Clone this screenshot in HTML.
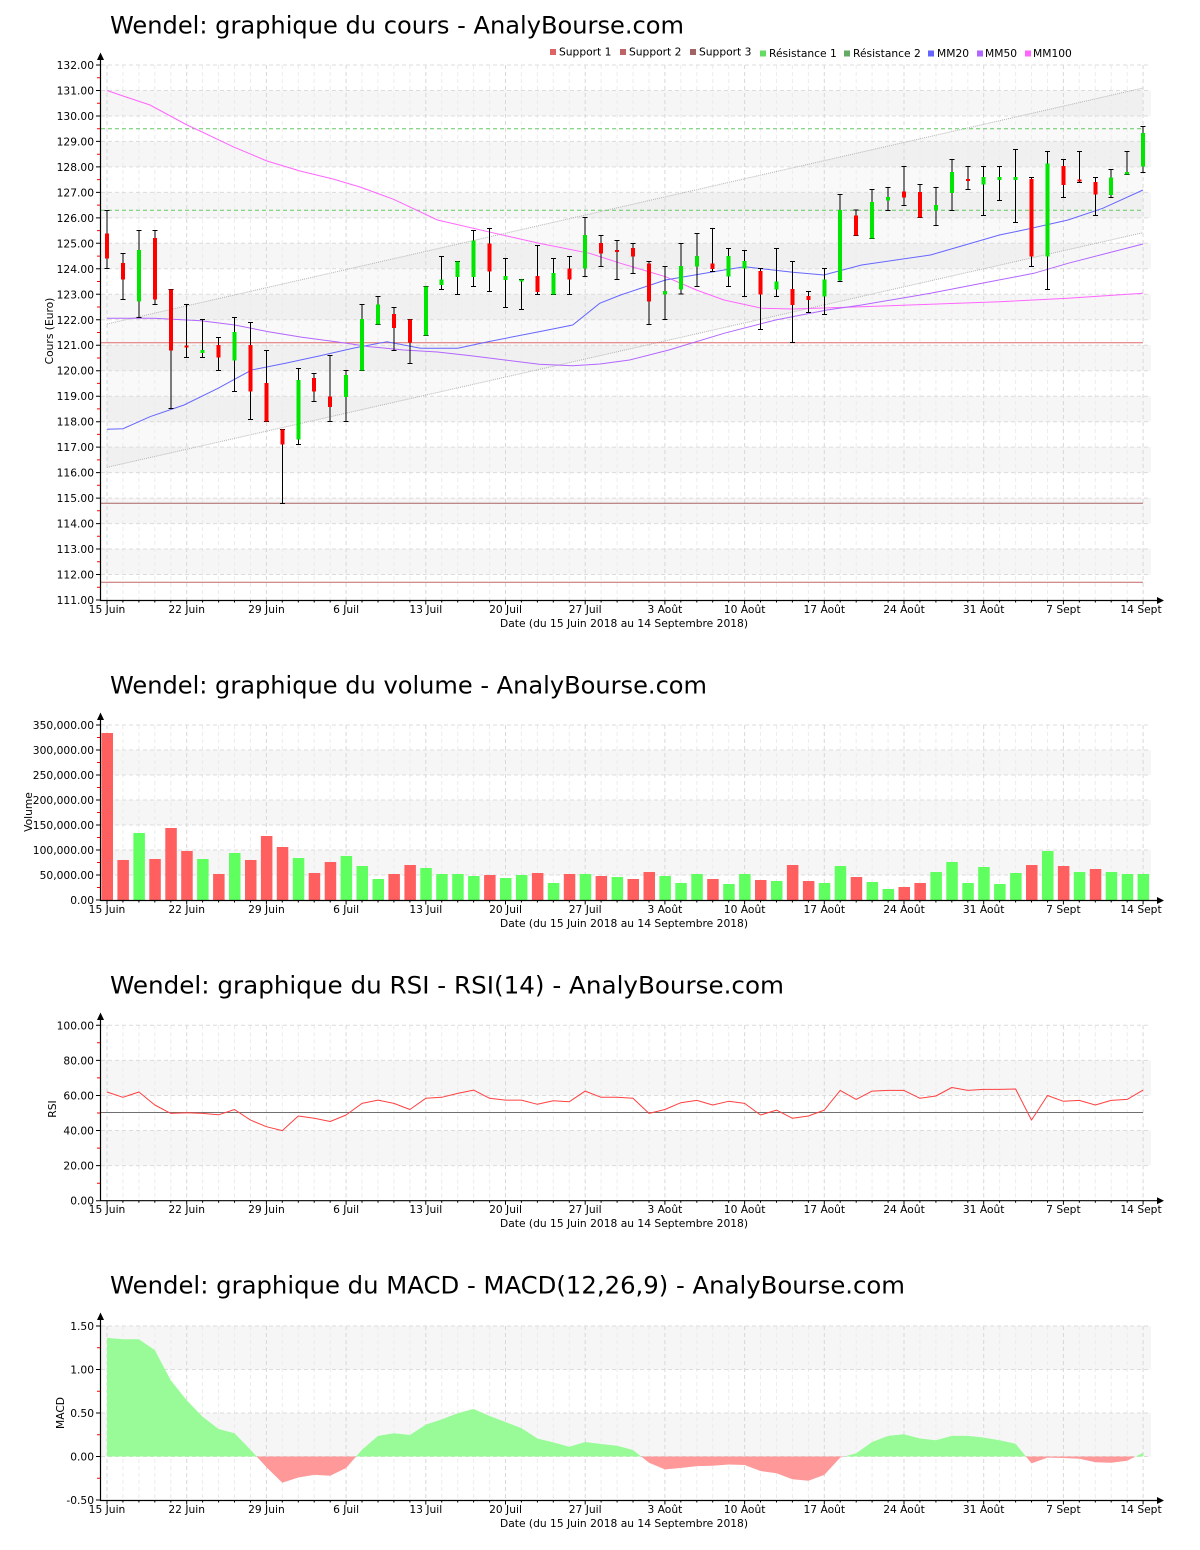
<!DOCTYPE html>
<html><head><meta charset="utf-8"><style>
html,body{margin:0;padding:0;background:#fff;width:1200px;height:1550px;overflow:hidden;position:relative;}
svg{display:block;position:absolute;left:0;top:0;overflow:hidden;}
text{font-family:"DejaVu Sans","Liberation Sans",sans-serif;fill:#000;}
.t{font-size:24px;}
.s{font-size:10.7px;}
</style></head><body>
<svg width="1200" height="1550" viewBox="0 0 1200 1550" xmlns="http://www.w3.org/2000/svg">
<defs>
<path id="vmin" d="M122.9 0V535M138.9 0V535M154.8 0V535M170.8 0V535M202.6 0V535M218.6 0V535M234.5 0V535M250.5 0V535M282.3 0V535M298.3 0V535M314.2 0V535M330.2 0V535M362 0V535M378 0V535M393.9 0V535M409.9 0V535M441.7 0V535M457.7 0V535M473.6 0V535M489.6 0V535M521.4 0V535M537.4 0V535M553.3 0V535M569.3 0V535M601.1 0V535M617.1 0V535M633 0V535M649 0V535M680.8 0V535M696.8 0V535M712.7 0V535M728.7 0V535M760.5 0V535M776.5 0V535M792.4 0V535M808.4 0V535M840.2 0V535M856.2 0V535M872.1 0V535M888.1 0V535M919.9 0V535M935.9 0V535M951.8 0V535M967.8 0V535M999.6 0V535M1015.6 0V535M1031.5 0V535M1047.5 0V535M1079.3 0V535M1095.3 0V535M1111.2 0V535M1127.2 0V535"/>
<path id="vmaj" d="M107 0V535M186.7 0V535M266.4 0V535M346.1 0V535M425.8 0V535M505.5 0V535M585.2 0V535M664.9 0V535M744.6 0V535M824.3 0V535M904 0V535M983.7 0V535M1063.4 0V535M1143.1 0V535"/>
<path id="xt" d="M107 0v4M186.7 0v4M266.4 0v4M346.1 0v4M425.8 0v4M505.5 0v4M585.2 0v4M664.9 0v4M744.6 0v4M824.3 0v4M904 0v4M983.7 0v4M1063.4 0v4M1143.1 0v4M122.9 0v2M138.9 0v2M154.8 0v2M170.8 0v2M202.6 0v2M218.6 0v2M234.5 0v2M250.5 0v2M282.3 0v2M298.3 0v2M314.2 0v2M330.2 0v2M362 0v2M378 0v2M393.9 0v2M409.9 0v2M441.7 0v2M457.7 0v2M473.6 0v2M489.6 0v2M521.4 0v2M537.4 0v2M553.3 0v2M569.3 0v2M601.1 0v2M617.1 0v2M633 0v2M649 0v2M680.8 0v2M696.8 0v2M712.7 0v2M728.7 0v2M760.5 0v2M776.5 0v2M792.4 0v2M808.4 0v2M840.2 0v2M856.2 0v2M872.1 0v2M888.1 0v2M919.9 0v2M935.9 0v2M951.8 0v2M967.8 0v2M999.6 0v2M1015.6 0v2M1031.5 0v2M1047.5 0v2M1079.3 0v2M1095.3 0v2M1111.2 0v2M1127.2 0v2"/>
<clipPath id="c2"><rect x="0" y="725" width="1200" height="175"/></clipPath>
<clipPath id="c3"><rect x="0" y="1025" width="1200" height="176"/></clipPath>
<clipPath id="c4"><rect x="0" y="1325" width="1200" height="175"/></clipPath>
<clipPath id="cpos"><rect x="100" y="1300" width="1100" height="156.5"/></clipPath>
<clipPath id="cneg"><rect x="100" y="1456.5" width="1100" height="43"/></clipPath>
</defs>

<!-- ================= PRICE CHART ================= -->
<text class="t" x="110" y="33.3" textLength="574" lengthAdjust="spacingAndGlyphs">Wendel: graphique du cours - AnalyBourse.com</text>
<g fill="#f6f6f6">
<rect x="101" y="90.5" width="1050" height="25.5"/><rect x="101" y="141.4" width="1050" height="25.5"/><rect x="101" y="192.4" width="1050" height="25.5"/><rect x="101" y="243.3" width="1050" height="25.5"/><rect x="101" y="294.3" width="1050" height="25.5"/><rect x="101" y="345.2" width="1050" height="25.5"/><rect x="101" y="396.2" width="1050" height="25.5"/><rect x="101" y="447.1" width="1050" height="25.5"/><rect x="101" y="498.1" width="1050" height="25.5"/><rect x="101" y="549" width="1050" height="25.5"/>
</g>
<polygon points="107,324 1143,88 1143,232.7 107,467.3" fill="#000" fill-opacity="0.025"/>
<use href="#vmin" transform="translate(0,65)" stroke="#ececec" stroke-width="1" stroke-dasharray="4,3" fill="none"/>
<use href="#vmaj" transform="translate(0,65)" stroke="#d8d8d8" stroke-width="1" stroke-dasharray="4,3" fill="none"/>
<path d="M101 65H1151M101 90.5H1151M101 116H1151M101 141.4H1151M101 166.9H1151M101 192.4H1151M101 217.9H1151M101 243.3H1151M101 268.8H1151M101 294.3H1151M101 319.8H1151M101 345.2H1151M101 370.7H1151M101 396.2H1151M101 421.7H1151M101 447.1H1151M101 472.6H1151M101 498.1H1151M101 523.6H1151M101 549H1151M101 574.5H1151" stroke="#dcdcdc" stroke-dasharray="4,3" fill="none"/>

<!-- regression channel -->
<line x1="107" y1="324" x2="1143" y2="88" stroke="#b4b4b4" stroke-dasharray="1,1"/>
<line x1="107" y1="467.3" x2="1143" y2="232.7" stroke="#b4b4b4" stroke-dasharray="1,1"/>

<!-- supports / resistances -->
<line x1="101" y1="342.7" x2="1143" y2="342.7" stroke="#dd6a6a"/>
<line x1="101" y1="503.3" x2="1143" y2="503.3" stroke="#a86464"/>
<line x1="101" y1="582.3" x2="1143" y2="582.3" stroke="#c46868"/>
<line x1="101" y1="128.7" x2="1143" y2="128.7" stroke="#66c866" stroke-dasharray="4,3"/>
<line x1="101" y1="210.2" x2="1143" y2="210.2" stroke="#66c866" stroke-dasharray="4,3"/>

<!-- moving averages -->
<polyline fill="none" stroke="#ff66ff" stroke-width="1" points="107,90.5 123,96 150,105 187,125 200,131 233,146.7 267,161 300,171 333,179 360,187 393.6,199.3 437.5,220 488,231.7 539,243.3 589.6,253.3 620.6,263.3 665.4,276.7 696.4,290 724,300 761.8,308.3 792.8,309 861.6,306.7 930.5,304.3 999.4,301.7 1068,298.3 1143,293.3"/>
<polyline fill="none" stroke="#b266ff" stroke-width="1" points="107,318.3 153.6,318.3 201,320.7 234.7,325 268.5,331.7 302,337.3 336,341.7 370,346.7 403.7,350 437.5,352 471,355.7 505,360 539,364.3 572.7,365.7 600,364 629.5,360 668.8,350 724,333.3 775.6,320 827,310 861.6,305 930.5,293.3 982,283.3 1033.8,273.3 1068,263.3 1143,244"/>
<polyline fill="none" stroke="#6666ff" stroke-width="1" points="107,429.3 123,428.7 150,416.7 184,405 218,388.3 251.6,370 285.4,363.3 319,356 353,348.3 387,341.7 420.6,348.3 457.8,348.3 488,341.7 539,331.7 572.7,325 599.7,303.3 620.6,295 665.4,280 724,270 744.6,266.7 792.8,272.3 823.8,275 861.6,265 930.5,255 965,245 999.4,235 1027,229.3 1068,220 1102.7,208.3 1143,190"/>

<!-- candles wicks -->
<path shape-rendering="crispEdges" stroke="#000" stroke-width="1" fill="none" d="
M107 210.7V268.3M104.5 210.7h5M104.5 268.3h5
M122.9 253.3V299.3M120.4 253.3h5M120.4 299.3h5
M138.9 230.7V317.3M136.4 230.7h5M136.4 317.3h5
M154.8 230.7V304.3M152.3 230.7h5M152.3 304.3h5
M170.8 289.3V408.7M168.3 289.3h5M168.3 408.7h5
M186.7 304.7V357.3M184.2 304.7h5M184.2 357.3h5
M202.6 319.3V357.3M200.1 319.3h5M200.1 357.3h5
M218.6 337.3V370.3M216.1 337.3h5M216.1 370.3h5
M234.5 317.3V391.3M232 317.3h5M232 391.3h5
M250.5 322.3V419.3M248 322.3h5M248 419.3h5
M266.4 350.3V421.3M263.9 350.3h5M263.9 421.3h5
M282.3 429.3V503.3M279.8 429.3h5M279.8 503.3h5
M298.3 368.7V444.7M295.8 368.7h5M295.8 444.7h5
M314.2 373.3V401.3M311.7 373.3h5M311.7 401.3h5
M330.2 355.3V421.3M327.7 355.3h5M327.7 421.3h5
M346.1 370.7V421.3M343.6 370.7h5M343.6 421.3h5
M362 304.7V370.7M359.5 304.7h5M359.5 370.7h5
M378 296.7V324.7M375.5 296.7h5M375.5 324.7h5
M393.9 307.7V350.3M391.4 307.7h5M391.4 350.3h5
M409.9 319.3V363.3M407.4 319.3h5M407.4 363.3h5
M425.8 286.3V335.3M423.3 286.3h5M423.3 335.3h5
M441.7 256.7V289.3M439.2 256.7h5M439.2 289.3h5
M457.7 261.3V294.7M455.2 261.3h5M455.2 294.7h5
M473.6 230.7V286.7M471.1 230.7h5M471.1 286.7h5
M489.6 228.7V291.3M487.1 228.7h5M487.1 291.3h5
M505.5 258.3V307.3M503 258.3h5M503 307.3h5
M521.4 279.3V309.3M518.9 279.3h5M518.9 309.3h5
M537.4 245.3V294.7M534.9 245.3h5M534.9 294.7h5
M553.3 258.7V294.7M550.8 258.7h5M550.8 294.7h5
M569.3 256.7V294.7M566.8 256.7h5M566.8 294.7h5
M585.2 217.3V276.3M582.7 217.3h5M582.7 276.3h5
M601.1 235.3V266.7M598.6 235.3h5M598.6 266.7h5
M617.1 240.3V279.3M614.6 240.3h5M614.6 279.3h5
M633 243.3V273.3M630.5 243.3h5M630.5 273.3h5
M649 261.3V324.3M646.5 261.3h5M646.5 324.3h5
M664.9 266.3V319.3M662.4 266.3h5M662.4 319.3h5
M680.8 243.3V294M678.3 243.3h5M678.3 294h5
M696.8 233.7V286.3M694.3 233.7h5M694.3 286.3h5
M712.7 228.3V271.7M710.2 228.3h5M710.2 271.7h5
M728.7 248.3V286.3M726.2 248.3h5M726.2 286.3h5
M744.6 250.3V296.3M742.1 250.3h5M742.1 296.3h5
M760.5 268.3V329.7M758 268.3h5M758 329.7h5
M776.5 248.3V296.3M774 248.3h5M774 296.3h5
M792.4 261.3V342.3M789.9 261.3h5M789.9 342.3h5
M808.4 291.3V312.3M805.9 291.3h5M805.9 312.3h5
M824.3 268.3V314.3M821.8 268.3h5M821.8 314.3h5
M840.2 194.3V281.3M837.7 194.3h5M837.7 281.3h5
M856.2 210V235.3M853.7 210h5M853.7 235.3h5
M872.1 189.3V238.3M869.6 189.3h5M869.6 238.3h5
M888.1 187.3V210.3M885.6 187.3h5M885.6 210.3h5
M904 166.3V205.3M901.5 166.3h5M901.5 205.3h5
M919.9 184.3V217.7M917.4 184.3h5M917.4 217.7h5
M935.9 187.3V225.3M933.4 187.3h5M933.4 225.3h5
M951.8 159.3V210.3M949.3 159.3h5M949.3 210.3h5
M967.8 166.3V189.3M965.3 166.3h5M965.3 189.3h5
M983.7 166.3V215.7M981.2 166.3h5M981.2 215.7h5
M999.6 166.3V200.3M997.1 166.3h5M997.1 200.3h5
M1015.6 149.3V222.3M1013.1 149.3h5M1013.1 222.3h5
M1031.5 177.7V266.3M1029 177.7h5M1029 266.3h5
M1047.5 151.3V289.3M1045 151.3h5M1045 289.3h5
M1063.4 159.3V197.3M1060.9 159.3h5M1060.9 197.3h5
M1079.3 151.3V182.3M1076.8 151.3h5M1076.8 182.3h5
M1095.3 177.3V215.3M1092.8 177.3h5M1092.8 215.3h5
M1111.2 169.3V197.3M1108.7 169.3h5M1108.7 197.3h5
M1127.2 151.3V174.3M1124.7 151.3h5M1124.7 174.3h5
M1143.1 126.3V172.3M1140.6 126.3h5M1140.6 172.3h5"/>
<!-- candle bodies red -->
<g fill="#ff0000" shape-rendering="crispEdges">
<rect x="105" y="233.3" width="4" height="25.4"/><rect x="120.9" y="263" width="4" height="16.7"/><rect x="152.8" y="238" width="4" height="61.7"/><rect x="168.8" y="289.3" width="4" height="61.4"/><rect x="184.7" y="345.3" width="4" height="2.4"/><rect x="216.6" y="345" width="4" height="12.7"/><rect x="248.5" y="345" width="4" height="46.7"/><rect x="264.4" y="383" width="4" height="38.3"/><rect x="280.3" y="429.3" width="4" height="15.4"/><rect x="312.2" y="378" width="4" height="13.7"/><rect x="328.2" y="396.3" width="4" height="10.7"/><rect x="391.9" y="314" width="4" height="14"/><rect x="407.9" y="319.3" width="4" height="23.4"/><rect x="487.6" y="243.3" width="4" height="28.4"/><rect x="535.4" y="276" width="4" height="16"/><rect x="567.3" y="268.3" width="4" height="11.4"/><rect x="599.1" y="243" width="4" height="10.7"/><rect x="615.1" y="250" width="4" height="2"/><rect x="631" y="248" width="4" height="8.7"/><rect x="647" y="263.3" width="4" height="38.4"/><rect x="710.7" y="263.3" width="4" height="5.7"/><rect x="758.5" y="271" width="4" height="23.7"/><rect x="790.4" y="289" width="4" height="16"/><rect x="806.4" y="296" width="4" height="4"/><rect x="854.2" y="215.3" width="4" height="20"/><rect x="902" y="191.7" width="4" height="6"/><rect x="917.9" y="192" width="4" height="25.7"/><rect x="965.8" y="179" width="4" height="2"/><rect x="1029.5" y="179" width="4" height="77.7"/><rect x="1061.4" y="166" width="4" height="19"/><rect x="1077.3" y="179.3" width="4" height="2"/><rect x="1093.3" y="182" width="4" height="12.7"/>
</g>
<!-- candle bodies green -->
<g fill="#00e600" shape-rendering="crispEdges">
<rect x="136.9" y="250" width="4" height="51.7"/><rect x="200.6" y="350" width="4" height="3"/><rect x="232.5" y="332" width="4" height="28.7"/><rect x="296.3" y="380" width="4" height="59.7"/><rect x="344.1" y="375" width="4" height="22"/><rect x="360" y="319" width="4" height="51.7"/><rect x="376" y="304.3" width="4" height="20.4"/><rect x="423.8" y="286.3" width="4" height="49"/><rect x="439.7" y="279.3" width="4" height="5.7"/><rect x="455.7" y="261.3" width="4" height="15.7"/><rect x="471.6" y="240.3" width="4" height="36.7"/><rect x="503.5" y="276" width="4" height="4"/><rect x="519.4" y="279.3" width="4" height="2.4"/><rect x="551.3" y="273" width="4" height="21.7"/><rect x="583.2" y="235" width="4" height="33.7"/><rect x="662.9" y="291" width="4" height="3.3"/><rect x="678.8" y="266" width="4" height="23.7"/><rect x="694.8" y="256" width="4" height="10.7"/><rect x="726.7" y="256" width="4" height="20.7"/><rect x="742.6" y="261" width="4" height="7.7"/><rect x="774.5" y="281.3" width="4" height="8"/><rect x="822.3" y="279.3" width="4" height="17.4"/><rect x="838.2" y="210" width="4" height="70.3"/><rect x="870.1" y="202" width="4" height="36.3"/><rect x="886.1" y="197" width="4" height="3.7"/><rect x="933.9" y="205" width="4" height="5.7"/><rect x="949.8" y="172" width="4" height="21"/><rect x="981.7" y="177" width="4" height="7.7"/><rect x="997.6" y="177" width="4" height="3"/><rect x="1013.6" y="177" width="4" height="3"/><rect x="1045.5" y="163.7" width="4" height="93"/><rect x="1109.2" y="177.3" width="4" height="17.7"/><rect x="1125.2" y="172" width="4" height="2.3"/><rect x="1141.1" y="133" width="4" height="33.7"/>
</g>

<!-- legend -->
<g>
<rect x="550" y="49" width="6" height="6" fill="#dc6464"/><text class="s" x="559" y="55.5">Support 1</text>
<rect x="620" y="49" width="6" height="6" fill="#be6464"/><text class="s" x="629" y="55.5">Support 2</text>
<rect x="690" y="49" width="6" height="6" fill="#a06464"/><text class="s" x="699" y="55.5">Support 3</text>
<rect x="760" y="50.5" width="6" height="6" fill="#64dc64"/><text class="s" x="769" y="57">Résistance 1</text>
<rect x="844" y="50.5" width="6" height="6" fill="#64aa64"/><text class="s" x="853" y="57">Résistance 2</text>
<rect x="928" y="50.5" width="6" height="6" fill="#6666ff"/><text class="s" x="937" y="57">MM20</text>
<rect x="977" y="50.5" width="6" height="6" fill="#b266ff"/><text class="s" x="985" y="57">MM50</text>
<rect x="1025" y="50.5" width="6" height="6" fill="#ff66ff"/><text class="s" x="1033" y="57">MM100</text>
</g>

<!-- axes -->
<path d="M100.5 56V600.5H1158" stroke="#000" stroke-width="1.2" fill="none"/>
<polygon points="97,60 100.5,52.5 104,60" fill="#000"/>
<polygon points="1157,597 1164,600.5 1157,604" fill="#000"/>
<use href="#xt" transform="translate(0,600.5)" stroke="#000" stroke-width="1" fill="none"/>
<path d="M96 65H100M96 90.5H100M96 116H100M96 141.4H100M96 166.9H100M96 192.4H100M96 217.9H100M96 243.3H100M96 268.8H100M96 294.3H100M96 319.8H100M96 345.2H100M96 370.7H100M96 396.2H100M96 421.7H100M96 447.1H100M96 472.6H100M96 498.1H100M96 523.6H100M96 549H100M96 574.5H100M96 600H100" stroke="#000"/>
<path d="M97 77.7H100M97 103.2H100M97 128.7H100M97 154.2H100M97 179.6H100M97 205.1H100M97 230.6H100M97 256.1H100M97 281.5H100M97 307H100M97 332.5H100M97 358H100M97 383.4H100M97 408.9H100M97 434.4H100M97 459.9H100M97 485.3H100M97 510.8H100M97 536.3H100M97 561.8H100M97 587.2H100" stroke="#ff0000"/>
<g text-anchor="end">
<text class="s" x="94" y="69">132.00</text><text class="s" x="94" y="94.5">131.00</text><text class="s" x="94" y="120">130.00</text><text class="s" x="94" y="145.4">129.00</text><text class="s" x="94" y="170.9">128.00</text><text class="s" x="94" y="196.4">127.00</text><text class="s" x="94" y="221.9">126.00</text><text class="s" x="94" y="247.3">125.00</text><text class="s" x="94" y="272.8">124.00</text><text class="s" x="94" y="298.3">123.00</text><text class="s" x="94" y="323.8">122.00</text><text class="s" x="94" y="349.2">121.00</text><text class="s" x="94" y="374.7">120.00</text><text class="s" x="94" y="400.2">119.00</text><text class="s" x="94" y="425.7">118.00</text><text class="s" x="94" y="451.1">117.00</text><text class="s" x="94" y="476.6">116.00</text><text class="s" x="94" y="502.1">115.00</text><text class="s" x="94" y="527.6">114.00</text><text class="s" x="94" y="553">113.00</text><text class="s" x="94" y="578.5">112.00</text><text class="s" x="94" y="604">111.00</text>
</g>
<text class="s" transform="translate(53,331) rotate(-90)" text-anchor="middle">Cours (Euro)</text>
<g text-anchor="middle">
<text class="s" x="107" y="613">15 Juin</text><text class="s" x="186.7" y="613">22 Juin</text><text class="s" x="266.4" y="613">29 Juin</text><text class="s" x="346.1" y="613">6 Juil</text><text class="s" x="425.8" y="613">13 Juil</text><text class="s" x="505.5" y="613">20 Juil</text><text class="s" x="585.2" y="613">27 Juil</text><text class="s" x="664.9" y="613">3 Août</text><text class="s" x="744.6" y="613">10 Août</text><text class="s" x="824.3" y="613">17 Août</text><text class="s" x="904" y="613">24 Août</text><text class="s" x="983.7" y="613">31 Août</text><text class="s" x="1063.4" y="613">7 Sept</text><text class="s" x="1141" y="613">14 Sept</text>
<text class="s" x="624" y="627">Date (du 15 Juin 2018 au 14 Septembre 2018)</text>
</g>

<!-- ================= VOLUME CHART ================= -->
<text class="t" x="110" y="693.3" textLength="597" lengthAdjust="spacingAndGlyphs">Wendel: graphique du volume - AnalyBourse.com</text>
<g fill="#f6f6f6">
<rect x="101" y="750" width="1050" height="25"/><rect x="101" y="800" width="1050" height="25"/><rect x="101" y="850" width="1050" height="25"/>
</g>
<g clip-path="url(#c2)">
<use href="#vmin" transform="translate(0,725)" stroke="#ececec" stroke-dasharray="4,3" fill="none"/>
<use href="#vmaj" transform="translate(0,725)" stroke="#d8d8d8" stroke-dasharray="4,3" fill="none"/>
</g>
<path d="M101 725H1151M101 750H1151M101 775H1151M101 800H1151M101 825H1151M101 850H1151M101 875H1151" stroke="#dcdcdc" stroke-dasharray="4,3" fill="none"/>
<g fill="#ff5f5f">
<rect x="101.5" y="733" width="11.5" height="167"/><rect x="117.4" y="860" width="11.5" height="40"/><rect x="149.3" y="859" width="11.5" height="41"/><rect x="165.3" y="828" width="11.5" height="72"/><rect x="181.2" y="851" width="11.5" height="49"/><rect x="213.1" y="874" width="11.5" height="26"/><rect x="245" y="860" width="11.5" height="40"/><rect x="260.9" y="836" width="11.5" height="64"/><rect x="276.8" y="847" width="11.5" height="53"/><rect x="308.7" y="873" width="11.5" height="27"/><rect x="324.7" y="862" width="11.5" height="38"/><rect x="388.4" y="874" width="11.5" height="26"/><rect x="404.4" y="865" width="11.5" height="35"/><rect x="484.1" y="875" width="11.5" height="25"/><rect x="531.9" y="873" width="11.5" height="27"/><rect x="563.8" y="874" width="11.5" height="26"/><rect x="595.6" y="876" width="11.5" height="24"/><rect x="627.5" y="879" width="11.5" height="21"/><rect x="643.5" y="872" width="11.5" height="28"/><rect x="707.2" y="879" width="11.5" height="21"/><rect x="755" y="880" width="11.5" height="20"/><rect x="786.9" y="865" width="11.5" height="35"/><rect x="802.9" y="881" width="11.5" height="19"/><rect x="850.7" y="877" width="11.5" height="23"/><rect x="898.5" y="887" width="11.5" height="13"/><rect x="914.4" y="883" width="11.5" height="17"/><rect x="1026" y="865" width="11.5" height="35"/><rect x="1057.9" y="866" width="11.5" height="34"/><rect x="1089.8" y="869" width="11.5" height="31"/>
</g>
<g fill="#5fff5f">
<rect x="133.4" y="833" width="11.5" height="67"/><rect x="197.1" y="859" width="11.5" height="41"/><rect x="229" y="853" width="11.5" height="47"/><rect x="292.8" y="858" width="11.5" height="42"/><rect x="340.6" y="856" width="11.5" height="44"/><rect x="356.5" y="866" width="11.5" height="34"/><rect x="372.5" y="879" width="11.5" height="21"/><rect x="420.3" y="868" width="11.5" height="32"/><rect x="436.2" y="874" width="11.5" height="26"/><rect x="452.2" y="874" width="11.5" height="26"/><rect x="468.1" y="876" width="11.5" height="24"/><rect x="500" y="878" width="11.5" height="22"/><rect x="515.9" y="875" width="11.5" height="25"/><rect x="547.8" y="883" width="11.5" height="17"/><rect x="579.7" y="874" width="11.5" height="26"/><rect x="611.6" y="877" width="11.5" height="23"/><rect x="659.4" y="876" width="11.5" height="24"/><rect x="675.3" y="883" width="11.5" height="17"/><rect x="691.3" y="874" width="11.5" height="26"/><rect x="723.2" y="884" width="11.5" height="16"/><rect x="739.1" y="874" width="11.5" height="26"/><rect x="771" y="881" width="11.5" height="19"/><rect x="818.8" y="883" width="11.5" height="17"/><rect x="834.7" y="866" width="11.5" height="34"/><rect x="866.6" y="882" width="11.5" height="18"/><rect x="882.6" y="889" width="11.5" height="11"/><rect x="930.4" y="872" width="11.5" height="28"/><rect x="946.3" y="862" width="11.5" height="38"/><rect x="962.3" y="883" width="11.5" height="17"/><rect x="978.2" y="867" width="11.5" height="33"/><rect x="994.1" y="884" width="11.5" height="16"/><rect x="1010.1" y="873" width="11.5" height="27"/><rect x="1042" y="851" width="11.5" height="49"/><rect x="1073.8" y="872" width="11.5" height="28"/><rect x="1105.7" y="872" width="11.5" height="28"/><rect x="1121.7" y="874" width="11.5" height="26"/><rect x="1137.6" y="874" width="11.5" height="26"/>
</g>
<path d="M100.5 716V900.5H1158" stroke="#000" stroke-width="1.2" fill="none"/>
<polygon points="97,720 100.5,712.5 104,720" fill="#000"/>
<polygon points="1157,897 1164,900.5 1157,904" fill="#000"/>
<use href="#xt" transform="translate(0,900.5)" stroke="#000" fill="none"/>
<path d="M96 725H100M96 750H100M96 775H100M96 800H100M96 825H100M96 850H100M96 875H100M96 900H100" stroke="#000"/>
<path d="M97 737.5H100M97 762.5H100M97 787.5H100M97 812.5H100M97 837.5H100M97 862.5H100M97 887.5H100" stroke="#ff0000"/>
<g text-anchor="end">
<text class="s" x="94" y="729">350,000.00</text><text class="s" x="94" y="754">300,000.00</text><text class="s" x="94" y="779">250,000.00</text><text class="s" x="94" y="804">200,000.00</text><text class="s" x="94" y="829">150,000.00</text><text class="s" x="94" y="854">100,000.00</text><text class="s" x="94" y="879">50,000.00</text><text class="s" x="94" y="904">0.00</text>
</g>
<text class="s" transform="translate(32,812) rotate(-90)" text-anchor="middle">Volume</text>
<g text-anchor="middle">
<text class="s" x="107" y="913">15 Juin</text><text class="s" x="186.7" y="913">22 Juin</text><text class="s" x="266.4" y="913">29 Juin</text><text class="s" x="346.1" y="913">6 Juil</text><text class="s" x="425.8" y="913">13 Juil</text><text class="s" x="505.5" y="913">20 Juil</text><text class="s" x="585.2" y="913">27 Juil</text><text class="s" x="664.9" y="913">3 Août</text><text class="s" x="744.6" y="913">10 Août</text><text class="s" x="824.3" y="913">17 Août</text><text class="s" x="904" y="913">24 Août</text><text class="s" x="983.7" y="913">31 Août</text><text class="s" x="1063.4" y="913">7 Sept</text><text class="s" x="1141" y="913">14 Sept</text>
<text class="s" x="624" y="927">Date (du 15 Juin 2018 au 14 Septembre 2018)</text>
</g>

<!-- ================= RSI CHART ================= -->
<text class="t" x="110" y="993.3" textLength="674" lengthAdjust="spacingAndGlyphs">Wendel: graphique du RSI - RSI(14) - AnalyBourse.com</text>
<g fill="#f6f6f6">
<rect x="101" y="1060.4" width="1050" height="35.1"/><rect x="101" y="1130.5" width="1050" height="35.1"/>
</g>
<g clip-path="url(#c3)">
<use href="#vmin" transform="translate(0,1025.3)" stroke="#ececec" stroke-dasharray="4,3" fill="none"/>
<use href="#vmaj" transform="translate(0,1025.3)" stroke="#d8d8d8" stroke-dasharray="4,3" fill="none"/>
</g>
<path d="M101 1025.3H1151M101 1060.4H1151M101 1095.5H1151M101 1130.5H1151M101 1165.6H1151" stroke="#dcdcdc" stroke-dasharray="4,3" fill="none"/>
<line x1="101" y1="1112.5" x2="1143" y2="1112.5" stroke="#707070"/>
<polyline fill="none" stroke="#ff4040" stroke-width="1" stroke-linejoin="round" points="107,1092 122.9,1097.3 138.9,1092 154.8,1105 170.8,1113.4 186.7,1112.7 202.6,1113.4 218.6,1114.8 234.5,1109.5 250.5,1120.1 266.4,1126.7 282.3,1130.6 298.3,1116 314.2,1118.3 330.2,1121.5 346.1,1115 362,1103.4 378,1100.1 393.9,1103.4 409.9,1109.5 425.8,1098.3 441.7,1097.3 457.7,1093.4 473.6,1090.1 489.6,1098.3 505.5,1100.1 521.4,1100.1 537.4,1104.3 553.3,1100.8 569.3,1101.7 585.2,1091.1 601.1,1097.3 617.1,1097.3 633,1098.3 649,1113.4 664.9,1109.5 680.8,1102.7 696.8,1100.4 712.7,1105 728.7,1101.3 744.6,1103.4 760.5,1115 776.5,1110.1 792.4,1118.3 808.4,1116 824.3,1110.1 840.2,1090.4 856.2,1099.4 872.1,1091.1 888.1,1090.4 904,1090.4 919.9,1098.3 935.9,1096 951.8,1087.5 967.8,1090.4 983.7,1089.4 999.6,1089.4 1015.6,1089 1031.5,1120.1 1047.5,1095.5 1063.4,1101.3 1079.3,1100.4 1095.3,1105 1111.2,1100.4 1127.2,1099.4 1143.1,1090.1"/>
<path d="M100.5 1016V1200.7H1158" stroke="#000" stroke-width="1.2" fill="none"/>
<polygon points="97,1020 100.5,1012.5 104,1020" fill="#000"/>
<polygon points="1157,1197.2 1164,1200.7 1157,1204.2" fill="#000"/>
<use href="#xt" transform="translate(0,1200.7)" stroke="#000" fill="none"/>
<path d="M96 1025.3H100M96 1060.4H100M96 1095.5H100M96 1130.5H100M96 1165.6H100M96 1200.7H100" stroke="#000"/>
<path d="M97 1042.8H100M97 1077.9H100M97 1113H100M97 1148.1H100M97 1183.2H100" stroke="#ff0000"/>
<g text-anchor="end">
<text class="s" x="94" y="1029.3">100.00</text><text class="s" x="94" y="1064.4">80.00</text><text class="s" x="94" y="1099.5">60.00</text><text class="s" x="94" y="1134.5">40.00</text><text class="s" x="94" y="1169.6">20.00</text><text class="s" x="94" y="1204.7">0.00</text>
</g>
<text class="s" transform="translate(56,1109) rotate(-90)" text-anchor="middle">RSI</text>
<g text-anchor="middle">
<text class="s" x="107" y="1213">15 Juin</text><text class="s" x="186.7" y="1213">22 Juin</text><text class="s" x="266.4" y="1213">29 Juin</text><text class="s" x="346.1" y="1213">6 Juil</text><text class="s" x="425.8" y="1213">13 Juil</text><text class="s" x="505.5" y="1213">20 Juil</text><text class="s" x="585.2" y="1213">27 Juil</text><text class="s" x="664.9" y="1213">3 Août</text><text class="s" x="744.6" y="1213">10 Août</text><text class="s" x="824.3" y="1213">17 Août</text><text class="s" x="904" y="1213">24 Août</text><text class="s" x="983.7" y="1213">31 Août</text><text class="s" x="1063.4" y="1213">7 Sept</text><text class="s" x="1141" y="1213">14 Sept</text>
<text class="s" x="624" y="1227">Date (du 15 Juin 2018 au 14 Septembre 2018)</text>
</g>

<!-- ================= MACD CHART ================= -->
<text class="t" x="110" y="1293.3" textLength="795" lengthAdjust="spacingAndGlyphs">Wendel: graphique du MACD - MACD(12,26,9) - AnalyBourse.com</text>
<g fill="#f6f6f6">
<rect x="101" y="1326" width="1050" height="43.5"/><rect x="101" y="1413" width="1050" height="43.5"/>
</g>
<g clip-path="url(#c4)">
<use href="#vmin" transform="translate(0,1326)" stroke="#ececec" stroke-dasharray="4,3" fill="none"/>
<use href="#vmaj" transform="translate(0,1326)" stroke="#d8d8d8" stroke-dasharray="4,3" fill="none"/>
</g>
<path d="M101 1326H1151M101 1369.5H1151M101 1413H1151M101 1456.5H1151" stroke="#dcdcdc" stroke-dasharray="4,3" fill="none"/>
<defs>
<path id="macd" d="M107 1456.5L107 1337.9L122.9 1339.2L138.9 1339.2L154.8 1350.1L170.8 1380.4L186.7 1400.3L202.6 1416.8L218.6 1429L234.5 1433.3L250.5 1449.8L266.4 1467.1L282.3 1482.7L298.3 1477.5L314.2 1474.9L330.2 1475.8L346.1 1468L362 1449.8L378 1435.9L393.9 1433.3L409.9 1435L425.8 1424.6L441.7 1419.4L457.7 1413.3L473.6 1409L489.6 1416L505.5 1422L521.4 1428.1L537.4 1438.5L553.3 1442.4L569.3 1446.7L585.2 1442L601.1 1444L617.1 1445.7L633 1450L649 1462.8L664.9 1469.4L680.8 1468L696.8 1466.1L712.7 1465.7L728.7 1464.5L744.6 1465L760.5 1471L776.5 1473.2L792.4 1479.2L808.4 1480.7L824.3 1474.9L840.2 1457.6L856.2 1453.2L872.1 1442L888.1 1435.9L904 1434.2L919.9 1438.5L935.9 1440.2L951.8 1435.9L967.8 1435.9L983.7 1437.6L999.6 1440.2L1015.6 1443.7L1031.5 1463.4L1047.5 1457.6L1063.4 1458L1079.3 1458.7L1095.3 1462.3L1111.2 1462.8L1127.2 1460.7L1143.1 1452.7L1143.1 1456.5Z"/>
</defs>
<use href="#macd" fill="#98fb98" clip-path="url(#cpos)"/>
<use href="#macd" fill="#ff9999" clip-path="url(#cneg)"/>
<path d="M100.5 1316V1500.5H1158" stroke="#000" stroke-width="1.2" fill="none"/>
<polygon points="97,1320 100.5,1312.5 104,1320" fill="#000"/>
<polygon points="1157,1497 1164,1500.5 1157,1504" fill="#000"/>
<use href="#xt" transform="translate(0,1500.5)" stroke="#000" fill="none"/>
<path d="M96 1326H100M96 1369.5H100M96 1413H100M96 1456.5H100M96 1500H100" stroke="#000"/>
<path d="M97 1347.8H100M97 1391.3H100M97 1434.8H100M97 1478.3H100" stroke="#ff0000"/>
<g text-anchor="end">
<text class="s" x="94" y="1330">1.50</text><text class="s" x="94" y="1373.5">1.00</text><text class="s" x="94" y="1417">0.50</text><text class="s" x="94" y="1460.5">0.00</text><text class="s" x="94" y="1504">-0.50</text>
</g>
<text class="s" transform="translate(64,1413) rotate(-90)" text-anchor="middle">MACD</text>
<g text-anchor="middle">
<text class="s" x="107" y="1513">15 Juin</text><text class="s" x="186.7" y="1513">22 Juin</text><text class="s" x="266.4" y="1513">29 Juin</text><text class="s" x="346.1" y="1513">6 Juil</text><text class="s" x="425.8" y="1513">13 Juil</text><text class="s" x="505.5" y="1513">20 Juil</text><text class="s" x="585.2" y="1513">27 Juil</text><text class="s" x="664.9" y="1513">3 Août</text><text class="s" x="744.6" y="1513">10 Août</text><text class="s" x="824.3" y="1513">17 Août</text><text class="s" x="904" y="1513">24 Août</text><text class="s" x="983.7" y="1513">31 Août</text><text class="s" x="1063.4" y="1513">7 Sept</text><text class="s" x="1141" y="1513">14 Sept</text>
<text class="s" x="624" y="1527">Date (du 15 Juin 2018 au 14 Septembre 2018)</text>
</g>
</svg>
</body></html>
